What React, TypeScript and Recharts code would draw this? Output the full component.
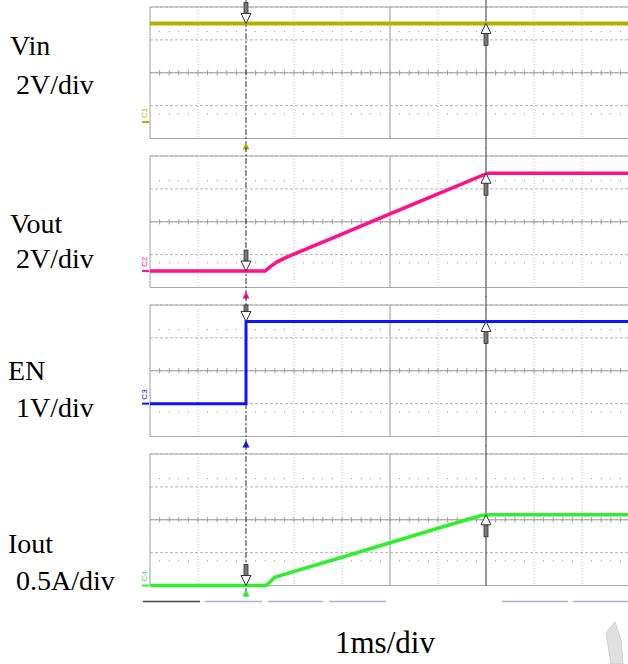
import React from "react";
import {
  ComposedChart, Line, Scatter, XAxis, YAxis, CartesianGrid,
  ReferenceLine, ReferenceArea, ReferenceDot,
} from "recharts";

// time axis in ms, 10 divisions at 1ms/div
const timeTicks = [0, 1, 2, 3, 4, 5, 6, 7, 8, 9, 10];
const cursorTimes = [2, 7]; // trigger cursor, second cursor

const vinTime = [0, 10];
const vinVolts = [12, 12];

const voutTime = [0, 2.4, 2.5, 2.64, 2.85, 4, 5, 6, 6.95, 7.05, 10];
const voutVolts = [0, 0, 0.5, 1.09, 1.7, 4.5, 6.95, 9.4, 11.7, 11.9, 11.9];

const enTime = [0, 2, 2, 10];
const enVolts = [0, 0, 5, 5];

const ioutTime = [0, 2.42, 2.6, 2.85, 4, 5, 6, 6.9, 7.1, 10];
const ioutAmps = [0, 0, 0.25, 0.36, 0.86, 1.3, 1.74, 2.13, 2.15, 2.15];

// minor graticule marks every 0.2 div
const minorT = Array.from({ length: 49 }, (_, i) => Math.round((i + 1) * 2) / 10);
const dotT = minorT.filter((t) => Math.abs(t - Math.round(t)) > 0.01);

type Channel = {
  tag: string; name: string; scale: string; color: string; width: number;
  time: number[]; values: number[]; domain: [number, number]; div: number;
  ground: number; cursor: number[];
};

const channels: Channel[] = [
  { tag: "C1", name: "Vin", scale: "2V/div", color: "#b5b000", width: 4, time: vinTime, values: vinVolts, domain: [-2, 14], div: 2, ground: 0, cursor: [12, 12] },
  { tag: "C2", name: "Vout", scale: "2V/div", color: "#ff1088", width: 3.5, time: voutTime, values: voutVolts, domain: [-2, 14], div: 2, ground: 0, cursor: [0, 11.9] },
  { tag: "C3", name: "EN", scale: "1V/div", color: "#0a14ff", width: 3, time: enTime, values: enVolts, domain: [-2, 6], div: 1, ground: 0, cursor: [5, 5] },
  { tag: "C4", name: "Iout", scale: "0.5A/div", color: "#2cf02c", width: 3.5, time: ioutTime, values: ioutAmps, domain: [0, 4], div: 0.5, ground: 0, cursor: [0, 2.15] },
];

const PLOT_LEFT = 150;
const PANEL_H = 131.5;
const PANEL_STEP = 149;

const DotMark = (p: any) => <rect x={p.cx - 0.5} y={p.cy - 0.5} width={1} height={1} fill="#8a8a8a" />;

// room = pixels available above the tip before the shaft is cut off
const downArrow = (room: number) => (p: any) => {
  const top = p.cy - Math.min(21, room);
  return (
    <g>
      {top < p.cy - 10 && (
        <rect x={p.cx - 2} y={top} width={4} height={p.cy - 10 - top} fill="#777" stroke="#333" strokeWidth={0.8} />
      )}
      <polygon points={`${p.cx - 5},${p.cy - 10} ${p.cx + 5},${p.cy - 10} ${p.cx},${p.cy}`} fill="#fff" stroke="#333" strokeWidth={1} />
    </g>
  );
};

const UpArrow = (p: any) => (
  <g>
    <rect x={p.cx - 2} y={p.cy + 10} width={4} height={12} fill="#777" stroke="#333" strokeWidth={0.8} />
    <polygon points={`${p.cx},${p.cy} ${p.cx - 5},${p.cy + 10} ${p.cx + 5},${p.cy + 10}`} fill="#fff" stroke="#333" strokeWidth={1} />
  </g>
);

function Panel({ ch, index, last }: { ch: Channel; index: number; last: boolean }) {
  const [lo, hi] = ch.domain;
  const d = ch.div;
  const yTicks = Array.from({ length: 9 }, (_, k) => lo + k * d);
  const mid = lo + 4 * d;
  const mt = 9;
  const mb = 16;
  const data = ch.time.map((t, i) => ({ t, v: ch.values[i] }));
  const dots = [1.5, 6.5].flatMap((r) => dotT.map((t) => ({ t, v: lo + r * d })));
  const room = ((hi - ch.cursor[0]) / d) * (PANEL_H / 8) + (index === 0 ? 9 : 0);

  return (
    <div style={{ position: "absolute", left: 0, top: PANEL_STEP * index - 2 }}>
      <ComposedChart width={640} height={mt + PANEL_H + mb} data={data}
        margin={{ top: mt, right: 10, bottom: mb, left: PLOT_LEFT }}>
        <XAxis type="number" dataKey="t" domain={[0, 10]} ticks={timeTicks} hide />
        <YAxis type="number" domain={ch.domain} ticks={yTicks} hide />
        <CartesianGrid vertical={false} stroke="#b4b4b4" strokeDasharray="3 2" />
        <CartesianGrid horizontal={false} stroke="#c4c4c4" strokeDasharray="1 2" />
        <ReferenceLine y={mid} stroke="#a0a0a0" />
        <ReferenceLine x={5} stroke="#a0a0a0" />
        {minorT.map((t) => (
          <ReferenceLine key={t} segment={[{ x: t, y: mid - 0.16 * d }, { x: t, y: mid + 0.16 * d }]} stroke="#a0a0a0" />
        ))}
        <Scatter data={dots} dataKey="v" shape={DotMark} isAnimationActive={false} />
        <ReferenceArea x1={0} x2={10} y1={lo} y2={hi} fill="none" fillOpacity={0} stroke="#a8a8a8" />
        <ReferenceLine ifOverflow="visible" stroke="#666" strokeWidth={1.3}
          segment={[{ x: cursorTimes[1], y: hi + 0.6 * d }, { x: cursorTimes[1], y: last ? lo : lo - 0.6 * d }]} />
        <ReferenceLine ifOverflow="visible" stroke="#333" strokeDasharray="6 2 2 2"
          segment={[{ x: cursorTimes[0], y: hi + 0.6 * d }, { x: cursorTimes[0], y: lo - 0.7 * d }]} />
        <Line type="linear" dataKey="v" stroke={ch.color} strokeWidth={ch.width} dot={false} isAnimationActive={false} />
        <ReferenceDot x={0} y={ch.ground} ifOverflow="visible" shape={(p: any) => (
          <g>
            <line x1={p.cx - 8} x2={p.cx - 1} y1={p.cy} y2={p.cy} stroke={ch.color} strokeWidth={2} />
            <text transform={`translate(${p.cx - 3},${p.cy - 4}) rotate(-90)`} fontSize={8}
              fill={ch.color} fontFamily="Liberation Sans">{ch.tag}</text>
          </g>
        )} />
        <ReferenceDot x={cursorTimes[0]} y={lo} ifOverflow="visible" shape={(p: any) => (
          <polygon points={`${p.cx},${p.cy + 4} ${p.cx - 3.5},${p.cy + 11} ${p.cx + 3.5},${p.cy + 11}`} fill={ch.color} />
        )} />
        <ReferenceDot x={cursorTimes[0]} y={ch.cursor[0]} ifOverflow="visible" shape={downArrow(room)} />
        <ReferenceDot x={cursorTimes[1]} y={ch.cursor[1]} ifOverflow="visible" shape={UpArrow} />
      </ComposedChart>
    </div>
  );
}

// left-hand labels: [name baseline, scale baseline]
const labelBaselines = [[55, 94], [233, 268], [380, 417], [553, 590]];

export default function App() {
  return (
    <div style={{ position: "absolute", left: 0, top: 0, width: 628, height: 664, overflow: "hidden", background: "#fff" }}>
      {channels.map((ch, i) => (
        <Panel key={ch.tag} ch={ch} index={i} last={i === channels.length - 1} />
      ))}
      <svg width={628} height={664} style={{ position: "absolute", left: 0, top: 0, pointerEvents: "none" }}>
        <g fontFamily="Liberation Serif, Times New Roman, serif" fontSize={28} fill="#000">
          {channels.map((ch, i) => (
            <g key={ch.tag}>
              <text x={i < 2 ? 10 : 8} y={labelBaselines[i][0]}>{ch.name}</text>
              <text x={16} y={labelBaselines[i][1]}>{ch.scale}</text>
            </g>
          ))}
          <text x={335} y={653} fontSize={31}>1ms/div</text>
        </g>
        {/* scope menu bar remnants */}
        <line x1={143} x2={200} y1={601.5} y2={601.5} stroke="#3c4258" strokeWidth={1.5} />
        {[[205, 262], [268, 323], [329, 386], [502, 568], [573, 628]].map(([a, b]) => (
          <line key={a} x1={a} x2={b} y1={601.5} y2={601.5} stroke="#b0b0d8" strokeWidth={1.5} />
        ))}
        <polygon points="606,633 615,622 621,640 623,664 611,664" fill="#e0e0e0" stroke="#d0d0d0" />
      </svg>
    </div>
  );
}
